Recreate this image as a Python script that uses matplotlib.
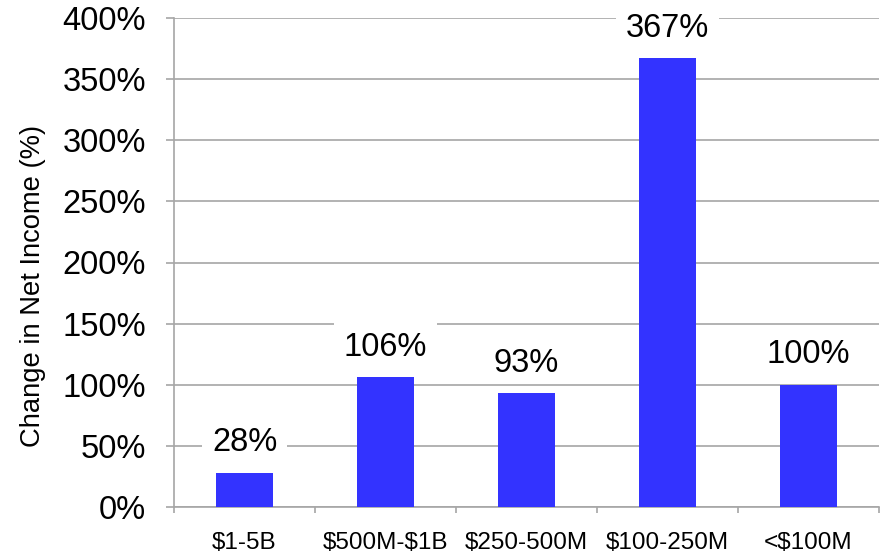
import numpy as np
import matplotlib.pyplot as plt
from matplotlib.path import Path
from matplotlib.ticker import FixedLocator, PercentFormatter

plt.rcParams['font.family'] = ['Liberation Sans', 'DejaVu Sans']
plt.rcParams['text.parse_math'] = False

categories = ['$1-5B', '$500M-$1B', '$250-500M', '$100-250M', '<$100M']
change_pct = [28, 106, 93, 367, 100]

grid_col = '#A6A6A6'
bar_col = '#3333FF'


# white box behind value labels: more room above the text than below,
# so it hides the gridline above but not the one just under the text
def label_box(x0, y0, width, height, mutation_size):
    px, top, bot = 0.3 * mutation_size, 0.38 * mutation_size, 0.04 * mutation_size
    verts = [(x0 - px, y0 - bot), (x0 + width + px, y0 - bot),
             (x0 + width + px, y0 + height + top), (x0 - px, y0 + height + top),
             (x0 - px, y0 - bot)]
    return Path(verts, closed=True)


fig = plt.figure(figsize=(8.81, 5.55), dpi=100)
ax = fig.add_axes([174 / 881, 1 - 507 / 555, 705 / 881, 489 / 555])

x = np.arange(len(categories))
ax.bar(x, change_pct, width=0.4, color=bar_col, zorder=3)

for xi, v in zip(x, change_pct):
    ax.annotate(f'{v}%', (xi, v), xytext=(0, 21.5), textcoords='offset points',
                ha='center', va='center', fontsize=23.5, zorder=4,
                bbox=dict(boxstyle=label_box, fc='white', ec='none'))

ax.set_xlim(-0.5, len(categories) - 0.5)
ax.set_ylim(0, 400)
ax.set_yticks(np.arange(0, 401, 50))
ax.yaxis.set_major_formatter(PercentFormatter(decimals=0))
ax.tick_params(axis='y', labelsize=23.5, length=6, width=1.2, color=grid_col, pad=14)
ax.grid(axis='y', color=grid_col, linewidth=1.2, zorder=0)

ax.set_xticks(x)
ax.set_xticklabels(categories)
ax.xaxis.set_minor_locator(FixedLocator(np.arange(-0.5, len(categories), 1)))
ax.tick_params(axis='x', which='major', length=0, labelsize=17.5, pad=18)
ax.tick_params(axis='x', which='minor', length=4.5, width=1.2, color=grid_col)

fig.text(33 / 881, 1 - 286 / 555, 'Change in Net Income (%)', rotation=90,
         ha='center', va='center', fontsize=19.7)

for s in ['top', 'right']:
    ax.spines[s].set_visible(False)
for s in ['left', 'bottom']:
    ax.spines[s].set_color(grid_col)
    ax.spines[s].set_linewidth(1.2)

fig.savefig('out.png', dpi=100)
